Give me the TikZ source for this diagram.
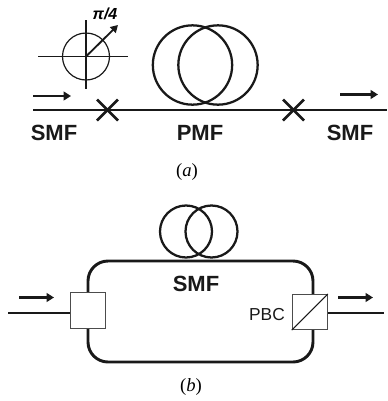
\documentclass[tikz,border=0pt]{standalone}
\usepackage{fontspec}
\setmainfont{Liberation Sans}
\newfontfamily\capfont{Liberation Serif}
\usetikzlibrary{arrows.meta}
\tikzset{
 px/.style={x=0.75pt,y=-0.75pt},
 fiber/.style={line width=1.9pt,black!90},
 thinl/.style={line width=0.9pt,black!90},
 coil/.style={circle,draw=black!90,line width=1.7pt,inner sep=0pt,minimum size=#1},
 ring/.style={circle,draw=black!90,line width=0.9pt,inner sep=0pt,minimum size=35.25pt},
 flow/.style={line width=1.9pt,black!90,-{Triangle[length=5.5pt,width=6.5pt]}},
 fmark/.style={line width=1.9pt,black!90},
 blabel/.style={font=\fontsize{16.5}{18}\selectfont\bfseries,inner sep=0pt,text=black!90},
 captext/.style={font=\capfont\fontsize{14}{16}\selectfont,inner sep=0pt},
 port/.style={rectangle,draw=black!70,fill=white,line width=0.6pt,minimum size=26.5pt,inner sep=0pt},
}
\begin{document}
\begin{tikzpicture}[px]
\useasboundingbox (0,0) rectangle (387,401);
% (a) polarisation sketch
\node[ring] (ring) at (86,56.5) {};
\coordinate (hl) at (38,56.5); \coordinate (hr) at (128,56.5);
\coordinate (vt) at (86,20); \coordinate (vb) at (86,89);
\coordinate (axt) at (118,25);
\draw[thinl] (hl) -- (hr);
\draw[thinl] (vt) -- (vb);
\draw[line width=1.4pt,black!90,-{Triangle[length=5.5pt,width=6pt]}] (ring.center) -- (axt);
\node[font=\fontsize{12}{14}\selectfont\bfseries\itshape,inner sep=0pt] (pi) at (105,14) {π/4};
% (a) coil
\node[coil=59.5pt] (c1) at (192.5,65) {};
\node[coil=59.5pt] (c2) at (218,65) {};
% (a) fibre
\coordinate (fl) at (33,110); \coordinate (fr) at (387,110);
\draw[fiber] (fl) -- (fr);
\coordinate (xa) at (107.5,110); \coordinate (xb) at (293.5,110);
\draw[fmark] ([shift={(-10.5,-10.5)}]xa) -- ([shift={(10.5,10.5)}]xa);
\draw[fmark] ([shift={(-10.5,10.5)}]xa) -- ([shift={(10.5,-10.5)}]xa);
\draw[fmark] ([shift={(-10.5,-10.5)}]xb) -- ([shift={(10.5,10.5)}]xb);
\draw[fmark] ([shift={(-10.5,10.5)}]xb) -- ([shift={(10.5,-10.5)}]xb);
\coordinate (a1s) at (33,96); \coordinate (a1e) at (71,96);
\coordinate (a2s) at (340,94.5); \coordinate (a2e) at (378,94.5);
\draw[flow] (a1s) -- (a1e);
\draw[flow] (a2s) -- (a2e);
\node[blabel] (s1) at (54,133) {SMF};
\node[blabel] (p1) at (200,133) {PMF};
\node[blabel] (s2) at (350,133) {SMF};
\node[captext] (capa) at (187,172) {(\textit{a})};
% (b)
\node[coil=39pt] (c3) at (186,231.5) {};
\node[coil=39pt] (c4) at (211.5,231.5) {};
\draw[line width=2.2pt,black!90,rounded corners=15pt] (88,261) rectangle (313,362);
\node[port] (lb) at (87.7,310.3) {};
\node[port] (rb) at (309.8,312) {};
\draw[line width=0.8pt,black!90] (rb.south west) -- (rb.north east);
\coordinate (il) at (8,313); \coordinate (ir) at (384,313);
\draw[fiber] (il) -- (il -| lb.west);
\draw[fiber] (rb.east |- ir) -- (ir);
\coordinate (a3s) at (19,297.5); \coordinate (a3e) at (54,297.5);
\coordinate (a4s) at (338,297.5); \coordinate (a4e) at (373,297.5);
\draw[flow] (a3s) -- (a3e);
\draw[flow] (a4s) -- (a4e);
\node[blabel] (s3) at (196,284) {SMF};
\node[font=\fontsize{13}{15}\selectfont,inner sep=0pt,text=black!90] (pbc) at (267,315) {PBC};
\node[captext] (capb) at (191,387) {(\textit{b})};
\end{tikzpicture}
\end{document}
